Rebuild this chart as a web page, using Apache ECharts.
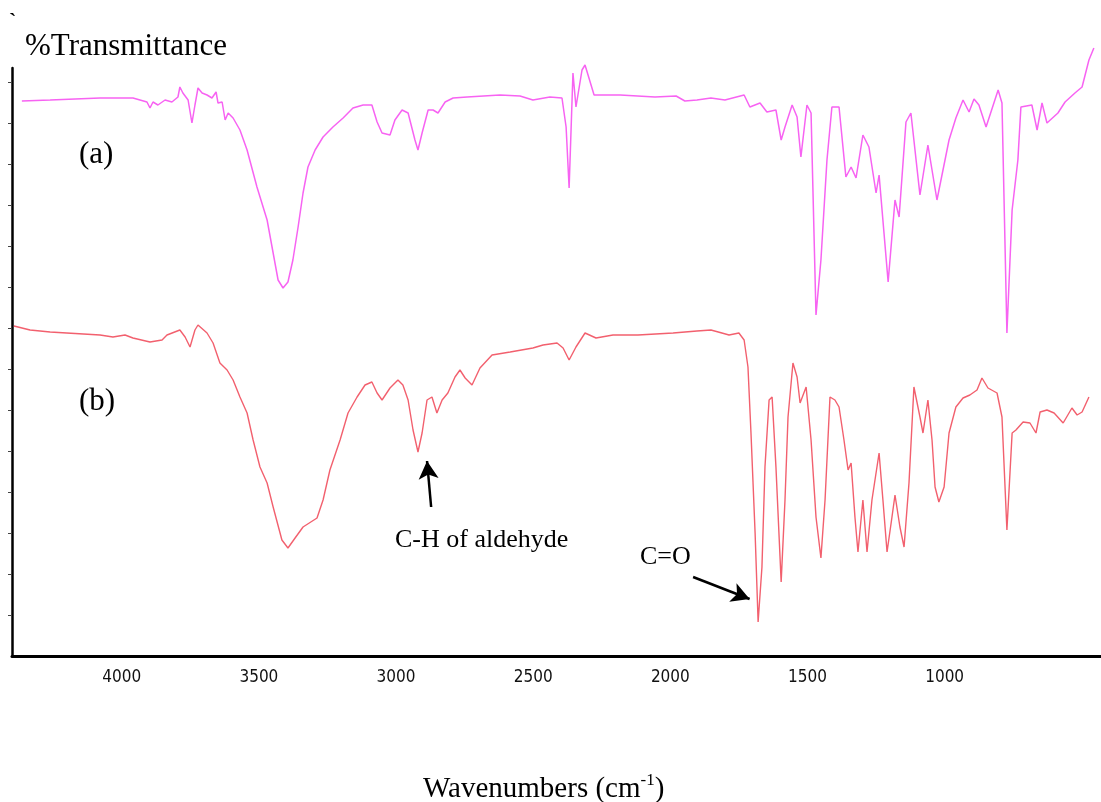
<!DOCTYPE html>
<html>
<head>
<meta charset="utf-8">
<script src="https://cdn.jsdelivr.net/npm/echarts@6/dist/echarts.min.js"></script>
<style>
html,body{margin:0;padding:0;background:#fff;}
#chart{width:1101px;height:802px;}
</style>
</head>
<body>
<div id="chart"></div>
<script>
// Wavenumber ticks (cm-1)
const xTicks = [4000, 3500, 3000, 2500, 2000, 1500, 1000];
// Left-axis tick positions (arbitrary transmittance units)
const yTicks = [41, 82, 123, 164, 205, 246, 287, 328, 369, 410, 451, 492, 533, 574];

// Spectrum (a): [wavenumber, transmittance (arbitrary offset units)]
const spectrumA = [
  [4364,555],[4261,556],[4079,558],[3959,558],[3908,554],[3897,548],[3886,554],[3868,551],
  [3842,556],[3817,554],[3795,559],[3788,569],[3777,563],[3758,556],[3744,533],[3733,551],
  [3722,568],[3707,563],[3689,561],[3671,558],[3656,564],[3649,553],[3634,554],[3623,536],
  [3612,543],[3594,538],[3569,526],[3543,506],[3507,469],[3470,436],[3448,403],[3430,376],
  [3412,368],[3394,374],[3376,396],[3357,429],[3339,463],[3321,489],[3295,506],[3266,519],
  [3230,529],[3193,538],[3157,548],[3120,551],[3088,551],[3069,534],[3051,523],[3022,521],
  [3004,536],[2978,546],[2956,543],[2931,516],[2920,506],[2905,523],[2883,546],[2865,546],
  [2847,543],[2821,554],[2792,558],[2741,559],[2621,561],[2548,560],[2501,556],[2439,559],
  [2395,558],[2380,529],[2369,468],[2355,583],[2344,549],[2322,586],[2311,591],[2278,561],
  [2183,561],[2056,559],[1979,560],[1947,555],[1903,556],[1852,558],[1801,556],[1731,561],
  [1710,549],[1673,553],[1648,544],[1615,546],[1596,516],[1582,529],[1556,551],[1538,539],
  [1524,499],[1502,551],[1487,543],[1469,341],[1451,396],[1429,496],[1411,549],[1385,549],
  [1360,479],[1341,489],[1323,478],[1298,521],[1276,509],[1250,463],[1239,481],[1206,374],
  [1181,456],[1166,439],[1141,534],[1123,543],[1090,461],[1061,511],[1028,456],[984,516],
  [959,538],[933,556],[911,544],[893,557],[875,551],[849,529],[805,566],[791,553],
  [773,323],[754,446],[733,496],[722,549],[682,551],[663,526],[645,553],[627,533],
  [587,543],[561,554],[525,563],[499,569],[474,596],[456,608]
];

// Spectrum (b): [wavenumber, transmittance (arbitrary offset units)]
const spectrumB = [
  [4393,330],[4334,326],[4261,324],[4079,321],[4032,319],[3988,321],[3959,318],[3897,314],
  [3853,316],[3835,321],[3788,326],[3769,319],[3751,309],[3733,326],[3722,331],[3689,323],
  [3667,313],[3642,293],[3616,286],[3594,276],[3569,259],[3543,243],[3521,216],[3496,189],
  [3470,173],[3448,149],[3416,116],[3394,108],[3368,118],[3339,129],[3288,138],[3266,156],
  [3241,186],[3204,216],[3175,243],[3142,259],[3113,271],[3088,274],[3069,263],[3051,256],
  [3022,268],[2993,276],[2975,271],[2956,256],[2938,226],[2920,204],[2905,223],[2887,256],
  [2869,259],[2851,243],[2832,256],[2811,263],[2785,279],[2767,286],[2748,278],[2723,271],
  [2694,288],[2650,301],[2584,304],[2501,308],[2464,311],[2413,313],[2391,308],[2369,296],
  [2344,309],[2311,323],[2271,318],[2209,321],[2118,321],[1990,323],[1903,325],[1852,326],
  [1812,323],[1786,321],[1750,323],[1731,316],[1717,289],[1706,223],[1691,123],[1680,34],
  [1666,89],[1655,189],[1640,256],[1629,259],[1615,189],[1596,74],[1582,156],[1571,239],
  [1553,293],[1538,279],[1527,253],[1505,269],[1487,216],[1469,139],[1451,98],[1436,156],
  [1418,259],[1400,256],[1385,249],[1367,216],[1352,186],[1341,193],[1327,139],[1316,104],
  [1298,156],[1283,104],[1265,156],[1239,203],[1225,156],[1210,104],[1192,139],[1181,161],
  [1163,129],[1148,109],[1130,173],[1112,269],[1090,239],[1079,223],[1061,256],[1046,216],
  [1035,169],[1021,154],[1002,169],[984,223],[959,249],[933,258],[908,261],[882,266],
  [864,278],[842,268],[809,263],[791,239],[773,126],[754,223],[740,226],[714,234],
  [689,233],[667,223],[652,244],[627,246],[601,243],[568,233],[536,248],[517,241],
  [499,244],[474,259]
];

// Annotation arrows (tail -> head) in data coordinates
const arrowCH = [[2872,149],[2887,195]];
const arrowCO = [[1917,79],[1711,57]];

const chart = echarts.init(document.getElementById('chart'), null, {renderer:'canvas'});
const serif = "'Liberation Serif','Times New Roman',serif";
const arrowLine = (pts) => ({
  silent: true,
  symbol: ['none','arrow'],
  symbolSize: [15, 18],
  symbolOffset: [0, 0],
  label: {show:false},
  lineStyle: {color:'#000', width:2.5, type:'solid'},
  itemStyle: {color:'#000'},
  emphasis: {disabled:true},
  data: [[{coord: pts[0]}, {coord: pts[1]}]]
});

chart.setOption({
  animation: false,
  backgroundColor: '#fff',
  grid: {left: 12, right: 0, top: 68, bottom: 146, containLabel: false},
  xAxis: {
    type: 'value', min: 430, max: 4400, inverse: true,
    axisLine: {show:true, lineStyle:{color:'#000', width:3}},
    axisTick: {show:false},
    splitLine: {show:false},
    axisLabel: {
      customValues: xTicks, margin: 13, color:'#111',
      formatter: (v) => String(v),
      fontFamily: "'Liberation Sans Narrow','DejaVu Sans Condensed',sans-serif",
      fontSize: 17
    }
  },
  yAxis: {
    type: 'value', min: 0, max: 588, interval: 41,
    axisLine: {show:true, onZero:false, lineStyle:{color:'#000', width:2.5}},
    axisTick: {show:true, inside:false, length:4, customValues: yTicks, lineStyle:{color:'#444', width:1}},
    axisLabel: {show:false},
    splitLine: {show:false}
  },
  series: [
    {
      name: '(a)', type: 'line', data: spectrumA, showSymbol: false, clip: false,
      lineStyle: {color:'#f763f2', width:1.5}, itemStyle:{color:'#f763f2'}
    },
    {
      name: '(b)', type: 'line', data: spectrumB, showSymbol: false, clip: false,
      lineStyle: {color:'#f2606e', width:1.4}, itemStyle:{color:'#f2606e'}
    },
    {
      name: 'arrowCH', type: 'line', data: [], markLine: arrowLine(arrowCH)
    },
    {
      name: 'arrowCO', type: 'line', data: [], markLine: arrowLine(arrowCO)
    }
  ],
  graphic: [
    {type:'text', left: 9, top: 11, style:{text:'`', font:"bold 22px "+serif, fill:'#000'}},
    {type:'text', x: 25, y: 47, style:{text:'%Transmittance', font:"31px "+serif, fill:'#000', textVerticalAlign:'middle'}},
    {type:'text', x: 79, y: 155, style:{text:'(a)', font:"31px "+serif, fill:'#000', textVerticalAlign:'middle'}},
    {type:'text', x: 79, y: 402, style:{text:'(b)', font:"31px "+serif, fill:'#000', textVerticalAlign:'middle'}},
    {type:'text', x: 395, y: 540, style:{text:'C-H of aldehyde', font:"26px "+serif, fill:'#000', textVerticalAlign:'middle'}},
    {type:'text', x: 640, y: 557, style:{text:'C=O', font:"26px "+serif, fill:'#000', textVerticalAlign:'middle'}},
    {type:'text', x: 423, y: 788, style:{
      text:'{m|Wavenumbers (cm}{s|-1}{m|)}',
      font:"29px "+serif, fill:'#000', textVerticalAlign:'middle',
      rich:{
        m:{fontFamily:serif, fontSize:29, fill:'#000', verticalAlign:'bottom', lineHeight:32},
        s:{fontFamily:serif, fontSize:17, fill:'#000', verticalAlign:'top', lineHeight:32}
      }
    }}
  ]
});
</script>
</body>
</html>
